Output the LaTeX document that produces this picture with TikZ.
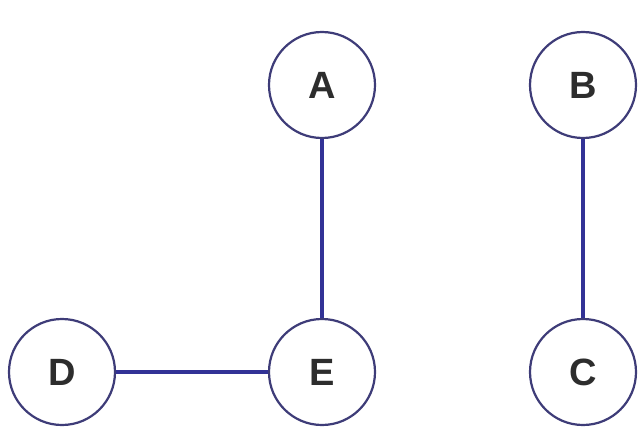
\documentclass[tikz,border=0pt]{standalone}
\usepackage{fontspec}
\setmainfont{Liberation Sans}
\definecolor{ringcol}{RGB}{62,60,120}
\definecolor{edgecol}{RGB}{50,50,150}
\definecolor{lettercol}{RGB}{45,45,45}
\tikzset{
  vertex/.style={circle, draw=ringcol, line width=2.2pt, fill=white,
    minimum size=106pt, inner sep=0pt, text=lettercol,
    font=\fontsize{38}{44}\selectfont\bfseries},
  link/.style={draw=edgecol, line width=3.2pt}
}
\begin{document}
\begin{tikzpicture}[x=1pt,y=-1pt]
        \useasboundingbox (0,0) rectangle (644,433);

        % vertices
        \node[vertex] (A) at (322,85) {A};
        \node[vertex] (B) at (583,85) {B};
        \node[vertex] (D) at (62,372) {D};
        \node[vertex] (E) at (322,372) {E};
        \node[vertex] (C) at (583,372) {C};

        % edges
        \draw[link] (A) -- (E);
        \draw[link] (D) -- (E);
        \draw[link] (B) -- (C);
    \end{tikzpicture}
\end{document}
